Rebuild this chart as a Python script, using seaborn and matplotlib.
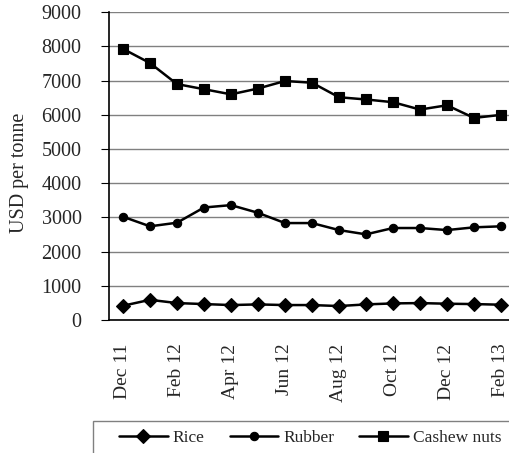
import matplotlib
matplotlib.use("Agg")  # headless
import matplotlib.pyplot as plt
from matplotlib.patches import Rectangle
import numpy as np
import pandas as pd
import seaborn as sns

# ── Data (USD per tonne, monthly) ─────────────────────────────────────────────
MONTHS = ["Dec 11", "Jan 12", "Feb 12", "Mar 12", "Apr 12", "May 12", "Jun 12",
          "Jul 12", "Aug 12", "Sep 12", "Oct 12", "Nov 12", "Dec 12", "Jan 13",
          "Feb 13"]
RICE = [417, 590, 495, 466, 437, 456, 437, 437, 408, 456, 485, 495, 476, 466, 447]
RUBBER = [3020, 2740, 2845, 3290, 3360, 3135, 2835, 2835, 2630, 2505, 2690, 2690,
          2630, 2710, 2740]
CASHEW = [7930, 7515, 6900, 6750, 6600, 6770, 6990, 6940, 6515, 6450, 6370, 6155,
          6280, 5910, 6000]

SERIES_NAMES = ["Rice", "Rubber", "Cashew nuts"]
SERIES_VALUES = [RICE, RUBBER, CASHEW]
MARKERS = {"Rice": "D", "Rubber": "o", "Cashew nuts": "s"}
MARKER_SIZES = [7.5, 6.0, 7.0]

Y_TICKS = list(range(0, 9001, 1000))

# ── Style ─────────────────────────────────────────────────────────────────────
sns.set_style("white")
plt.rcParams["font.family"] = ["Liberation Serif", "DejaVu Serif"]
FS = 14.5
LEGEND_FS = 12.5

df = pd.concat(
    [
        pd.DataFrame({"pos": np.arange(len(MONTHS)), "month": MONTHS,
                      "price": vals, "commodity": name})
        for name, vals in zip(SERIES_NAMES, SERIES_VALUES)
    ],
    ignore_index=True,
)

fig = plt.figure(figsize=(5.09, 4.53), dpi=100)
ax = fig.add_axes([0.2151, 0.2936, 0.7957, 0.6793])

sns.lineplot(
    data=df, x="pos", y="price", hue="commodity", style="commodity",
    hue_order=SERIES_NAMES, style_order=SERIES_NAMES,
    markers=MARKERS, dashes=False, palette=["black"] * 3,
    linewidth=1.8, markeredgecolor="black", markeredgewidth=0.8,
    legend=False, ax=ax,
)
for line, ms in zip(ax.lines, MARKER_SIZES):
    line.set_markersize(ms)

# ── Axes ──────────────────────────────────────────────────────────────────────
n = len(MONTHS)
ax.set_xlim(-0.5, n - 0.5)
ax.set_ylim(0, 9000)
ax.set_yticks(Y_TICKS)
ax.set_yticklabels([str(v) for v in Y_TICKS], fontsize=FS)
ax.set_xticks(np.arange(0, n, 2))
ax.set_xticklabels(MONTHS[::2], rotation=90, fontsize=FS - 0.5)
ax.set_xticks(np.arange(-0.5, n, 2), minor=True)
ax.tick_params(axis="x", which="major", length=0, pad=17)
ax.tick_params(axis="x", which="minor", length=5, width=0.8, color="#808080",
               direction="out")
ax.tick_params(axis="y", length=6, width=0.8, color="black", direction="out",
               pad=14, left=True)

ax.yaxis.grid(True, color="#808080", linewidth=1.0)
ax.set_axisbelow(True)
for side in ("top", "right"):
    ax.spines[side].set_visible(False)
for side in ("left", "bottom"):
    ax.spines[side].set_color("black")
    ax.spines[side].set_linewidth(1.2)

ax.set_xlabel("")
ax.set_ylabel("USD per tonne", fontsize=FS)
ax.yaxis.set_label_coords(-0.199, 0.479)

# ── Legend (frame cropped by figure edge, as in source) ──────────────────────
fig.add_artist(Rectangle((93 / 509, -0.2), 1.0, 0.2 + (453 - 420.7) / 453,
                         transform=fig.transFigure, fill=False,
                         edgecolor="#808080", linewidth=1.0))
fig.legend(
    ax.lines[:3], SERIES_NAMES, loc="center left",
    bbox_to_anchor=(119 / 509, 1 - 438 / 453), ncol=3, frameon=False,
    fontsize=LEGEND_FS, handlelength=2.8, handletextpad=0.29, columnspacing=1.44,
    borderaxespad=0, borderpad=0,
)

fig.savefig("out.png", dpi=100)
